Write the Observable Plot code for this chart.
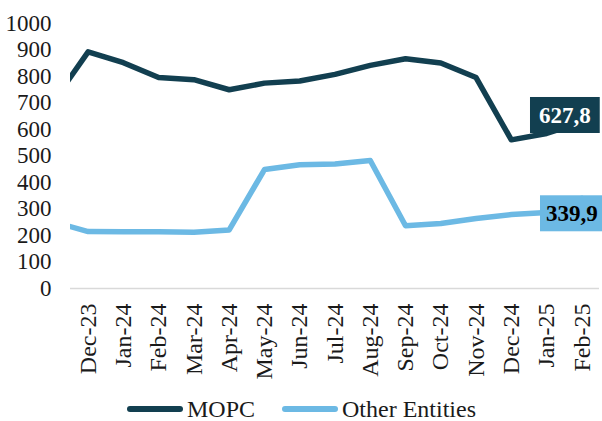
<!DOCTYPE html>
<html>
<head>
<meta charset="utf-8">
<script src="https://cdn.jsdelivr.net/npm/d3@7"></script>
<script src="https://cdn.jsdelivr.net/npm/@observablehq/plot@0.6"></script>
<style>
  body { margin: 0; background: #fff; font-family: "Liberation Serif", "Times New Roman", Times, "DejaVu Serif", serif; }
  #chart svg { display: block; }
  #chart svg text { font-family: "Liberation Serif", "Times New Roman", Times, "DejaVu Serif", serif; }
  #legend { display: flex; justify-content: center; align-items: center; height: 38px; font-family: "Liberation Serif", "Times New Roman", Times, "DejaVu Serif", serif; font-size: 24px; color: #1a1a1a; }
  #legend .item { display: flex; align-items: center; margin: 0 13px; }
  #legend svg { display: block; margin-right: 3px; }
</style>
</head>
<body>
<div id="chart"></div>
<div id="legend"></div>
<script>
// Months (Nov-23 lies just outside the plot and is clipped at the left edge)
const months = ["Nov-23","Dec-23","Jan-24","Feb-24","Mar-24","Apr-24","May-24","Jun-24","Jul-24","Aug-24","Sep-24","Oct-24","Nov-24","Dec-24","Jan-25","Feb-25"];
const seriesNames = ["MOPC", "Other Entities"];
const mopc  = [703, 893, 852, 796, 788, 750, 775, 783, 808, 842, 867, 851, 796, 561, 585, 627.8];
const other = [252, 215, 214, 214, 212, 221, 449, 467, 470, 483, 237, 245, 264, 279, 287, 339.9];
const endLabels = ["627,8", "339,9"];
const yTicks = [0, 100, 200, 300, 400, 500, 600, 700, 800, 900, 1000];

const colors = ["#123f50", "#6cb9e4"];
const serif = "'Liberation Serif', 'Times New Roman', Times, 'DejaVu Serif', serif";

const rows = months.flatMap((m, i) => [
  {i, month: m, series: seriesNames[0], value: mopc[i]},
  {i, month: m, series: seriesNames[1], value: other[i]}
]);
const last = months.length - 1;
const labMopc = [{i: last, value: mopc[last], text: endLabels[0]}];
const labOther = [{i: last, value: other[last], text: endLabels[1]}];

const chart = Plot.plot({
  width: 602,
  height: 390,
  marginTop: 23,
  marginBottom: 102,
  marginLeft: 70,
  marginRight: 3,
  style: {fontFamily: serif, fontSize: "24px", color: "#1a1a1a", background: "#fff"},
  x: {type: "linear", domain: [0.5, last + 0.5]},
  y: {domain: [0, 1000]},
  color: {domain: seriesNames, range: colors},
  marks: [
    Plot.axisY({ticks: yTicks, tickFormat: d => String(d), tickSize: 0, tickPadding: 19, label: null, fontSize: 23}),
    Plot.axisX({ticks: d3.range(1, months.length), tickFormat: i => months[i], tickRotate: -90, tickSize: 0, tickPadding: 15, label: null, fontSize: 24}),
    Plot.ruleY([0], {stroke: "#d9d9d9", strokeWidth: 1.5}),
    Plot.line(rows, {x: "i", y: "value", z: "series", stroke: "series", strokeWidth: 5.5, strokeLinejoin: "round", clip: true}),
    Plot.text(labMopc, {x: "i", y: "value", text: "text", dx: -17, dy: -7, fill: "#fff", fontWeight: "bold", fontSize: 23, className: "lab-mopc"}),
    Plot.text(labOther, {x: "i", y: "value", text: "text", dx: -10, dy: 15, fill: "#000", fontWeight: "bold", fontSize: 23, className: "lab-other"})
  ]
});
document.getElementById("chart").appendChild(chart);

// boxes behind the end labels
function boxify(cls, fill, padX, padY) {
  chart.querySelectorAll("g." + cls + " text").forEach(t => {
    const b = t.getBBox();
    const r = document.createElementNS("http://www.w3.org/2000/svg", "rect");
    r.setAttribute("x", b.x - padX);
    r.setAttribute("y", b.y - padY);
    r.setAttribute("width", b.width + 2 * padX);
    r.setAttribute("height", b.height + 2 * padY);
    r.setAttribute("fill", fill);
    if (t.getAttribute("transform")) r.setAttribute("transform", t.getAttribute("transform"));
    t.parentNode.insertBefore(r, t);
  });
}
boxify("lab-mopc", colors[0], 9, 5.5);
boxify("lab-other", colors[1], 6, 5.5);

// legend
const legend = document.getElementById("legend");
seriesNames.forEach((name, k) => {
  const item = document.createElement("div");
  item.className = "item";
  item.innerHTML = `<svg width="58" height="10"><line x1="4" x2="54" y1="5" y2="5" stroke="${colors[k]}" stroke-width="6" stroke-linecap="round"/></svg><span>${name}</span>`;
  legend.appendChild(item);
});
</script>
</body>
</html>
